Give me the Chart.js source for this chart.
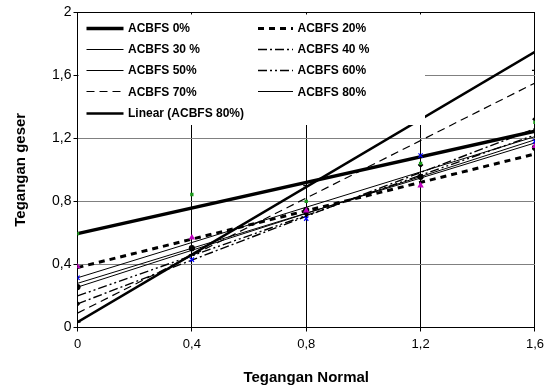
<!DOCTYPE html>
<html><head><meta charset="utf-8">
<script src="https://cdn.jsdelivr.net/npm/chart.js@4/dist/chart.umd.min.js"></script>
<style>html,body{margin:0;padding:0;background:#fff;}#wrap{width:549px;height:390px;}</style>
</head><body><div id="wrap"><canvas id="c" width="549" height="390"></canvas></div>
<script>
// ---- data ----
const xTicks = [0, 0.4, 0.8, 1.2, 1.6];
const yTicks = [0, 0.4, 0.8, 1.2, 1.6, 2];
const seriesNames = ['ACBFS 0%', 'ACBFS 20%', 'ACBFS 30 %', 'ACBFS 40 %', 'ACBFS 50%', 'ACBFS 60%', 'ACBFS 70%', 'ACBFS 80%', 'Linear (ACBFS 80%)'];
const trendX = [0, 1.6];
const line0 = [0.595, 1.244];
const line20 = [0.38, 1.10];
const line30 = [0.315, 1.21];
const line40 = [0.15, 1.26];
const line50 = [0.256, 1.19];
const line60 = [0.20, 1.22];
const line70 = [0.091, 1.55];
const line80 = [0.28, 1.17];
const lineLin80 = [0.034, 1.747];
const pts0 = [0.595, 0.843, 0.80, 1.04, 1.30];
const pts20 = [0.387, 0.57, 0.74, 0.90, 1.15];
const pts30 = [0.315, 0.43, 0.69, 1.09, 1.18];
const pts50 = [0.256, 0.503, 0.744, 0.955, 1.14];
const pts60 = [0.15, 0.50, 0.72, 1.03, 1.32];
const pts80 = [0.034, 0.46, 0.90, 1.40, 1.63];

// ---- styles ----
const lineSets = [line0, line20, line30, line40, line50, line60, line70, line80, lineLin80];
const lineStyles = [
  {w: 3.5, dash: []},
  {w: 3, dash: [6, 5]},
  {w: 1, dash: []},
  {w: 1.4, dash: [9, 3, 2, 3]},
  {w: 1, dash: []},
  {w: 1.4, dash: [9, 3, 2, 3, 2, 3]},
  {w: 1.2, dash: [8, 5]},
  {w: 1, dash: []},
  {w: 2.5, dash: []}
];
const ptSets = [pts0, pts20, pts30, pts50, pts60, pts80];
const ptStyles = [
  {c: '#1a9a1a', s: 'rect', r: 1.5},
  {c: '#c000c0', s: 'triangle', r: 2.5},
  {c: '#0000ff', s: 'crossRot', r: 3},
  {c: '#000000', s: 'circle', r: 2.5},
  {c: '#000000', s: 'rectRot', r: 2},
  {c: '#000000', s: 'line', r: 3}
];

const datasets = [];
ptSets.forEach((arr, k) => {
  datasets.push({
    type: 'scatter', label: 'pts' + k,
    data: xTicks.map((x, i) => ({x: x, y: arr[i]})),
    showLine: false, pointStyle: ptStyles[k].s, pointRadius: ptStyles[k].r,
    borderColor: ptStyles[k].c, backgroundColor: ptStyles[k].c, borderWidth: 1.2
  });
});
lineSets.forEach((arr, k) => {
  datasets.push({
    type: 'line', label: seriesNames[k],
    data: trendX.map((x, i) => ({x: x, y: arr[i]})),
    borderColor: '#000', borderWidth: lineStyles[k].w, borderDash: lineStyles[k].dash,
    pointRadius: 0, fill: false, tension: 0, borderCapStyle: 'butt'
  });
});

const fmt = v => (Math.round(v * 10) / 10).toString().replace('.', ',');

const legendPlugin = {
  id: 'boxLegend',
  afterDatasetsDraw(chart) {
    const ctx = chart.ctx;
    ctx.save();
    ctx.fillStyle = '#fff';
    ctx.fillRect(79, 14.5, 346, 110.5);
    ctx.font = 'bold 12px "Liberation Sans", Arial, sans-serif';
    ctx.textBaseline = 'middle';
    ctx.fillStyle = '#000';
    seriesNames.forEach((name, i) => {
      const col = i % 2, row = Math.floor(i / 2);
      const y = 27.5 + row * 21.3;
      const x1 = col === 0 ? 86.5 : 258;
      const x2 = col === 0 ? 123.5 : 293;
      const tx = col === 0 ? 128 : 297.5;
      const st = lineStyles[i];
      ctx.beginPath();
      ctx.lineWidth = st.w;
      ctx.setLineDash(st.dash);
      ctx.strokeStyle = '#000';
      ctx.lineCap = 'butt';
      ctx.moveTo(x1, Math.round(y) + 0.5);
      ctx.lineTo(x2, Math.round(y) + 0.5);
      ctx.stroke();
      ctx.setLineDash([]);
      ctx.fillText(name, tx, y + 1);
    });
    ctx.restore();
  }
};

new Chart(document.getElementById('c'), {
  data: {datasets: datasets},
  options: {
    responsive: false, animation: false, devicePixelRatio: 1,
    layout: {padding: {left: 0, right: 13, top: 12, bottom: 0}},
    plugins: {legend: {display: false}, tooltip: {enabled: false}},
    scales: {
      x: {
        type: 'linear', min: 0, max: 1.6,
        afterBuildTicks: s => { s.ticks = xTicks.map(v => ({value: v})); },
        afterFit: s => { s.height = 62.5; },
        ticks: {callback: v => fmt(v), color: '#000', padding: 5, maxRotation: 0,
                font: {family: '"Liberation Sans", Arial, sans-serif', size: 13}},
        grid: {color: '#000', lineWidth: 1, tickLength: 4, tickColor: '#000'},
        border: {color: '#000', width: 1},
        title: {display: true, text: 'Tegangan Normal', color: '#000',
                font: {family: '"Liberation Sans", Arial, sans-serif', size: 15, weight: 'bold'},
                padding: {top: 0, bottom: 3}}
      },
      y: {
        type: 'linear', min: 0, max: 2,
        afterBuildTicks: s => { s.ticks = yTicks.map(v => ({value: v})); },
        afterFit: s => { s.width = 77.5; },
        ticks: {callback: v => fmt(v), color: '#000', padding: 2,
                font: {family: '"Liberation Sans", Arial, sans-serif', size: 14}},
        grid: {color: c => (c.tick && (c.tick.value === 0 || c.tick.value === 2)) ? '#000' : '#808080',
               lineWidth: 1, tickLength: 4, tickColor: '#000'},
        border: {color: '#000', width: 1},
        title: {display: true, text: 'Tegangan geser', color: '#000',
                font: {family: '"Liberation Sans", Arial, sans-serif', size: 15, weight: 'bold'},
                padding: {top: 12, bottom: 0}}
      }
    }
  },
  plugins: [legendPlugin]
});
</script></body></html>
